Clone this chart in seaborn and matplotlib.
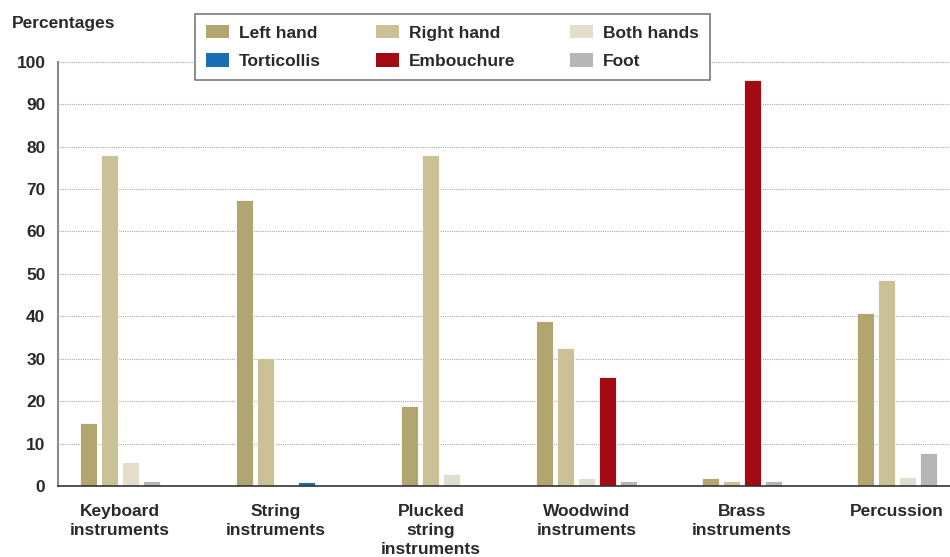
import numpy as np
import pandas as pd
import seaborn as sns
import matplotlib
matplotlib.use("Agg")
import matplotlib.pyplot as plt
from matplotlib.patches import Patch

# Categories and per-series values (NaN = series not reported for that group)
categories = ["Keyboard\ninstruments", "String\ninstruments", "Plucked\nstring\ninstruments",
              "Woodwind\ninstruments", "Brass\ninstruments", "Percussion"]
series = ["Left hand", "Right hand", "Both hands", "Torticollis", "Embouchure", "Foot"]

left_hand = [14.8, 67.5, 18.9, 38.9, 1.9, 40.7]
right_hand = [78.0, 30.1, 78.0, 32.6, 1.1, 48.5]
both_hands = [5.6, 0.3, 2.8, 1.8, np.nan, 2.0]
torticollis = [np.nan, 1.0, np.nan, np.nan, np.nan, np.nan]
embouchure = [np.nan, np.nan, np.nan, 25.7, 95.7, np.nan]
foot = [1.1, np.nan, np.nan, 1.1, 1.1, 7.7]

colors = ["#b1a66f", "#cac196", "#e2decb", "#1a6fb4", "#a20b14", "#b6b6b8"]

values = [left_hand, right_hand, both_hands, torticollis, embouchure, foot]

# Long-form table; bars present in a group are packed side by side and centred
pitch = 0.135
rows = []
for gi in range(len(categories)):
    present = [si for si in range(len(series)) if not np.isnan(values[si][gi])]
    n = len(present)
    for k, si in enumerate(present):
        rows.append({"pos": gi + (k - (n - 1) / 2) * pitch,
                     "value": values[si][gi],
                     "series": series[si]})
df = pd.DataFrame(rows)

sns.set_style("white")
plt.rcParams["font.family"] = ["Liberation Sans Narrow", "Liberation Sans", "DejaVu Sans"]

fig = plt.figure(figsize=(9.5, 5.57), dpi=100)
ax = fig.add_axes([0.061, 0.1275, 0.939, 0.7615])

sns.barplot(data=df, x="pos", y="value", hue="series", hue_order=series,
            palette=dict(zip(series, colors)), native_scale=True, dodge=False,
            width=0.81, saturation=1, linewidth=0.6, edgecolor="white",
            legend=False, ax=ax)

ax.set_xlim(-0.4, 5.34)
ax.set_ylim(0, 100)
ax.set_yticks(range(0, 101, 10))
ax.set_xticks(range(len(categories)))
ax.set_xticklabels(categories, fontweight="bold", fontsize=12.5, color="#2a2a2a",
                   linespacing=1.32)
ax.tick_params(axis="x", length=0, pad=13)
ax.tick_params(axis="y", length=5, width=1, color="#888888", labelsize=12.5,
               labelcolor="#2a2a2a", pad=4)
for lbl in ax.get_yticklabels():
    lbl.set_fontweight("bold")
ax.set_xlabel("")
ax.set_ylabel("")

ax.yaxis.grid(True, linestyle=(0, (1, 1)), color="#aaaaaa", linewidth=0.8)
ax.set_axisbelow(True)
for side in ["top", "right"]:
    ax.spines[side].set_visible(False)
ax.spines["left"].set_color("#8c8c8c")
ax.spines["left"].set_linewidth(1.5)
ax.spines["bottom"].set_color("#333333")
ax.spines["bottom"].set_linewidth(1.2)

fig.text(0.013, 0.958, "Percentages", fontsize=12.5, fontweight="bold",
         color="#2a2a2a", va="center", ha="left")

# Legend laid out row-wise: matplotlib fills columns first, so interleave
order = [0, 3, 1, 4, 2, 5]
handles = [Patch(facecolor=colors[i], edgecolor="none", label=series[i]) for i in order]
leg = fig.legend(handles=handles, ncol=3, loc="upper left",
                 bbox_to_anchor=(0.205, 0.975), frameon=True, fancybox=False,
                 edgecolor="#7a7a7a", framealpha=1, borderpad=0.65,
                 borderaxespad=0, columnspacing=3.15, handlelength=1.35,
                 handleheight=0.8, handletextpad=0.55, labelspacing=0.72,
                 prop={"weight": "bold", "size": 12.5})
for t in leg.get_texts():
    t.set_color("#2a2a2a")
leg.get_frame().set_linewidth(1.2)

fig.savefig("out.png", dpi=100, facecolor="white")
